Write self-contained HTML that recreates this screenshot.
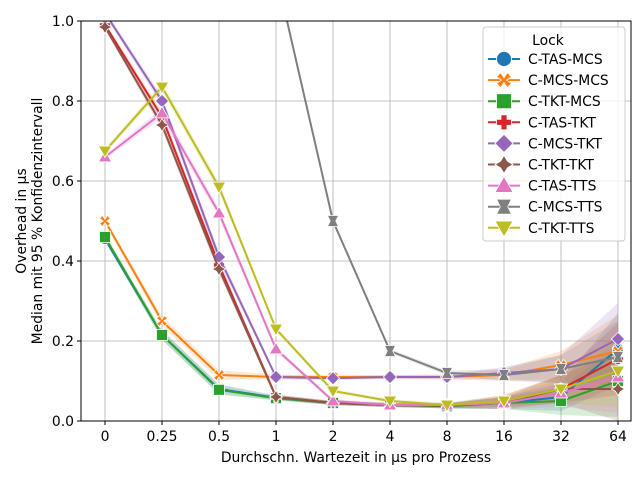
<!DOCTYPE html>
<html><head><meta charset="utf-8"><style>
body{margin:0;background:#fff}
svg{font-family:"DejaVu Sans","Liberation Sans",sans-serif}
</style></head><body>
<svg id="chart" width="640" height="480" xmlns="http://www.w3.org/2000/svg"></svg>
<script>
const categories=["0","0.25","0.5","1","2","4","8","16","32","64"];
const seriesNames=["C-TAS-MCS","C-MCS-MCS","C-TKT-MCS","C-TAS-TKT","C-MCS-TKT","C-TKT-TKT","C-TAS-TTS","C-MCS-TTS","C-TKT-TTS"];
const sTasMcs=[0.455,0.215,0.08,0.058,0.045,0.04,0.038,0.045,0.06,0.18];
const sMcsMcs=[0.50,0.25,0.115,0.11,0.11,0.11,0.11,0.115,0.14,0.175];
const sTktMcs=[0.46,0.215,0.078,0.057,0.045,0.04,0.037,0.045,0.05,0.1];
const sTasTkt=[0.99,0.76,0.39,0.06,0.045,0.04,0.038,0.05,0.08,0.155];
const sMcsTkt=[1.02,0.80,0.41,0.11,0.107,0.11,0.11,0.12,0.13,0.205];
const sTktTkt=[0.985,0.74,0.38,0.06,0.045,0.04,0.038,0.045,0.08,0.08];
const sTasTts=[0.66,0.77,0.52,0.18,0.05,0.04,0.04,0.045,0.07,0.11];
const sMcsTts=[1.35,1.3,1.25,1.12,0.5,0.175,0.12,0.115,0.13,0.16];
const sTktTts=[0.675,0.835,0.585,0.23,0.075,0.05,0.04,0.05,0.08,0.125];
const ciHalf=[0.006,0.012,0.012,0.006,0.005,0.005,0.006,0.015,0.035,0.09];
const yTicks=[0,0.2,0.4,0.6,0.8,1.0];
const yTickLabels=["0.0","0.2","0.4","0.6","0.8","1.0"];
const allSeries=[sTasMcs,sMcsMcs,sTktMcs,sTasTkt,sMcsTkt,sTktTkt,sTasTts,sMcsTts,sTktTts];
const colors=["#1f77b4","#ff7f0e","#2ca02c","#d62728","#9467bd","#8c564b","#e377c2","#7f7f7f","#bcbd22"];
const markers=["o","X","s","P","D","star","^","bow","v"];
const L=81,R=631,T=21,B=421;
const FS=13.9;
const xPos=i=>105+i*57;
const yPos=v=>B-(v/1.0)*(B-T);
const svg=document.getElementById('chart');
const NS="http://www.w3.org/2000/svg";
function mk(tag,attrs,parent){const e=document.createElementNS(NS,tag);for(const k in attrs)e.setAttribute(k,attrs[k]);(parent||svg).appendChild(e);return e;}
function markerPath(type,x,y,s){
  switch(type){
    case "o":return `M${x-s},${y}a${s},${s} 0 1,0 ${2*s},0a${s},${s} 0 1,0 ${-2*s},0Z`;
    case "s":return `M${x-s},${y-s}h${2*s}v${2*s}h${-2*s}Z`;
    case "D":return `M${x},${y-s*1.2}L${x+s*1.2},${y}L${x},${y+s*1.2}L${x-s*1.2},${y}Z`;
    case "^":return `M${x},${y-s*1.2}L${x+s*1.2},${y+s*0.9}L${x-s*1.2},${y+s*0.9}Z`;
    case "v":return `M${x},${y+s*1.2}L${x+s*1.2},${y-s*0.9}L${x-s*1.2},${y-s*0.9}Z`;
    case "P":{const a=s*0.4;return `M${x-a},${y-s}h${2*a}v${s-a}h${s-a}v${2*a}h${-(s-a)}v${s-a}h${-2*a}v${-(s-a)}h${-(s-a)}v${-2*a}h${s-a}Z`;}
    case "X":{const a=s*0.55,b=s;return `M${x-b},${y-b+a}L${x-b+a},${y-b}L${x},${y-a*0.6}L${x+b-a},${y-b}L${x+b},${y-b+a}L${x+a*0.6},${y}L${x+b},${y+b-a}L${x+b-a},${y+b}L${x},${y+a*0.6}L${x-b+a},${y+b}L${x-b},${y+b-a}L${x-a*0.6},${y}Z`;}
    case "star":{const a=s*0.45,b=s*1.2;return `M${x},${y-b}L${x+a},${y-a}L${x+b},${y}L${x+a},${y+a}L${x},${y+b}L${x-a},${y+a}L${x-b},${y}L${x-a},${y-a}Z`;}
    case "bow":{const b=s;return `M${x-b},${y-b}L${x+b},${y-b}L${x+b*0.5},${y}L${x+b},${y+b}L${x-b},${y+b}L${x-b*0.5},${y}Z`;}
  }
}
const defs=mk('defs',{});const cp=mk('clipPath',{id:'clip'},defs);mk('rect',{x:L,y:T,width:R-L,height:B-T},cp);
const grid=mk('g',{});
categories.forEach((c,i)=>{mk('line',{x1:xPos(i),x2:xPos(i),y1:T,y2:B,stroke:'#b0b0b0','stroke-width':0.8},grid);});
yTicks.forEach(v=>{mk('line',{x1:L,x2:R,y1:yPos(v),y2:yPos(v),stroke:'#b0b0b0','stroke-width':0.8},grid);});
const plot=mk('g',{'clip-path':'url(#clip)'});
allSeries.forEach((s,k)=>{
  let up=s.map((v,i)=>`${xPos(i)},${yPos(v+ciHalf[i])}`);
  let dn=s.map((v,i)=>`${xPos(i)},${yPos(Math.max(0,v-ciHalf[i]))}`).reverse();
  const b=mk('polygon',{points:up.concat(dn).join(' '),fill:colors[k],'fill-opacity':0.18,stroke:'none'},plot);
  
  
});
allSeries.forEach((s,k)=>{
  const g=mk('g',{},plot);
  
  
  mk('polyline',{points:s.map((v,i)=>`${xPos(i)},${yPos(v)}`).join(' '),fill:'none',stroke:colors[k],'stroke-width':2},g);
  s.forEach((v,i)=>{const m=mk('path',{d:markerPath(markers[k],xPos(i),yPos(v),5.5),fill:colors[k],stroke:'#fff','stroke-width':0.8},g);
    
    });
});
const frame=mk('rect',{x:L,y:T,width:R-L,height:B-T,fill:'none',stroke:'#000','stroke-width':1});

categories.forEach((c,i)=>{mk('line',{x1:xPos(i),x2:xPos(i),y1:B,y2:B+4,stroke:'#000'});
  const t=mk('text',{x:xPos(i),y:B+20,'text-anchor':'middle','font-size':FS});t.textContent=c;
  });
yTicks.forEach((v,i)=>{mk('line',{x1:L-4,x2:L,y1:yPos(v),y2:yPos(v),stroke:'#000'});
  const t=mk('text',{x:L-7,y:yPos(v)+5,'text-anchor':'end','font-size':FS});t.textContent=yTickLabels[i];
  });
const xt=mk('text',{x:(L+R)/2,y:462,'text-anchor':'middle','font-size':FS});xt.textContent="Durchschn. Wartezeit in µs pro Prozess";

const yt=mk('text',{transform:'translate(26,221) rotate(-90)','text-anchor':'middle','font-size':FS});
const ts1=mk('tspan',{x:0,dy:0},yt);ts1.textContent="Overhead in µs";
const ts2=mk('tspan',{x:0,dy:16},yt);ts2.textContent="Median mit 95 % Konfidenzintervall";

const lg=mk('g',{});
mk('rect',{x:483,y:27,width:142,height:214,rx:3,fill:'#fff','fill-opacity':0.8,stroke:'#ccc'},lg);
const lt=mk('text',{x:548,y:45,'text-anchor':'middle','font-size':FS},lg);lt.textContent="Lock";
seriesNames.forEach((n,k)=>{
  const y=59+k*21.1;
  const e=mk('g',{},lg);
  mk('line',{x1:488,x2:520,y1:y,y2:y,stroke:colors[k],'stroke-width':2},e);
  mk('path',{d:markerPath(markers[k],504,y,7.5),fill:colors[k],stroke:'#fff','stroke-width':0.8},e);
  const t=mk('text',{x:528,y:y+5,'font-size':FS},e);t.textContent=n;
});
</script>
</body></html>
